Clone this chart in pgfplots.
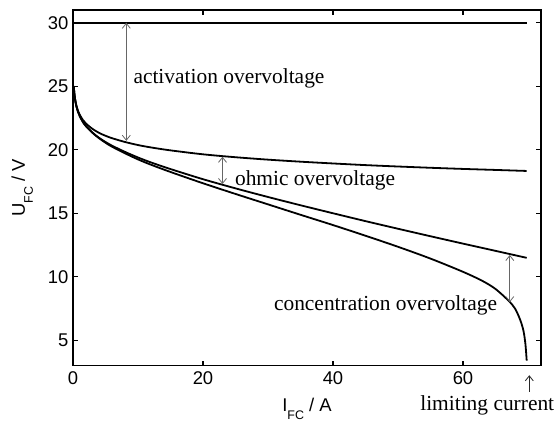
\documentclass[border=0pt]{standalone}
\usepackage{fontspec}
\setmainfont{Liberation Serif}
\setsansfont{Liberation Sans}
\usepackage{pgfplots}
\pgfplotsset{compat=1.18}
\usetikzlibrary{arrows.meta}
\begin{document}
\begin{tikzpicture}
\begin{axis}[
  name=ax,
  scale only axis,
  width=468bp, height=355.7bp,
  xmin=0, xmax=72, ymin=3, ymax=31,
  xtick={0,20,40,60}, ytick={5,10,15,20,25,30},
  xtick pos=both, ytick pos=both,
  tick align=inside,
  major tick length=5bp,
  axis line style={line width=1.4bp},
  tick style={line width=1.2bp, black},
  ticklabel style={font=\sffamily\fontsize{18.5}{20}\selectfont},
  /pgf/number format/assume math mode=true,
  xticklabel style={yshift=-2bp},
  yticklabel style={xshift=-1bp},
  clip=false,
  xlabel={I\raisebox{-8bp}{\fontsize{12.5}{13}\selectfont FC} / A},
  xlabel style={font=\sffamily\fontsize{18.5}{20}\selectfont, at={(rel axis cs:0.5,0)}, anchor=base, yshift=-45.3bp},
]
\tikzset{crv/.style={black, line width=1.8bp, mark=none}}
% horizontal line (no-loss voltage)
\addplot[crv] coordinates {(0,30) (69.8,30)};
% activation losses only
\addplot[crv, smooth] coordinates {
(0.12,25.02) (0.2,24.48) (0.3,24.05) (0.5,23.52) (0.75,23.09) (1,22.79) (1.5,22.36) (2,22.06)
(3,21.64) (4,21.33) (5,21.10) (6,20.91) (8,20.61) (10,20.37) (12,20.18) (15,19.95) (20,19.64)
(25,19.41) (30,19.22) (35,19.06) (40,18.92) (45,18.79) (50,18.68) (55,18.58) (60,18.49)
(65,18.41) (69.8,18.33)};
% activation + ohmic
\addplot[crv, smooth] coordinates {
(0.12,25.01) (0.2,24.46) (0.3,24.02) (0.5,23.47) (0.75,23.02) (1,22.69) (1.5,22.21) (2,21.86)
(3,21.35) (4,20.94) (5,20.61) (6,20.32) (8,19.83) (10,19.39) (12,19.00) (15,18.48) (20,17.68)
(25,16.96) (30,16.28) (35,15.63) (40,15.00) (45,14.38) (50,13.78) (55,13.19) (60,12.61)
(65,12.04) (69.8,11.49)};
% full polarisation curve
\addplot[crv, smooth] coordinates {
(0.12,25.0) (0.2,24.46) (0.3,24.02) (0.5,23.47) (0.75,23.02) (1,22.69) (1.5,22.20) (2,21.85)
(3,21.33) (4,20.91) (5,20.55) (6,20.24) (8,19.72) (10,19.24) (12,18.82) (15,18.25) (20,17.36)
(25,16.52) (30,15.70) (35,14.88) (40,14.07) (45,13.23) (50,12.36) (55,11.43) (60,10.39)
(63,9.67) (65,9.04) (67,8.12) (68,7.50) (68.8,6.61) (69.3,5.75) (69.6,4.72) (69.8,3.40)};

\tikzset{ann/.style={line width=0.8bp, draw=black!60, {Straight Barb[length=5bp,width=8bp]}-{Straight Barb[length=5bp,width=8bp]}}}
\draw[ann] (axis cs:8.2,30) -- (axis cs:8.2,20.7);
\draw[ann] (axis cs:23,19.45) -- (axis cs:23,17.3);
\draw[ann] (axis cs:67.2,11.72) -- (axis cs:67.2,8.0);
\draw[line width=0.8bp, draw=black!85, -{Straight Barb[length=5bp,width=8bp]}] (axis cs:70.2,0.94) -- (axis cs:70.2,2.25);

\tikzset{lab/.style={anchor=base west, inner sep=0pt, font=\fontsize{21.5}{24}\selectfont}}
\node[lab] at (axis cs:9.28,25.18) {activation overvoltage};
\node[lab] at (axis cs:24.9,17.19) {ohmic overvoltage};
\node[lab] at (axis cs:30.9,7.36) {concentration overvoltage};
\node[lab] at (axis cs:53.4,-0.49) {limiting current};

\node[rotate=90, anchor=base, inner sep=0pt, font=\sffamily\fontsize{18.5}{20}\selectfont]
  at ([xshift=-48bp]rel axis cs:0,0.5) {U\raisebox{-8bp}{\fontsize{12.5}{13}\selectfont FC} / V};
\end{axis}
\pgfresetboundingbox
\path[use as bounding box] ([xshift=-73bp,yshift=-57.3bp]ax.south west) rectangle ([xshift=17bp,yshift=10bp]ax.north east);
\end{tikzpicture}
\end{document}
